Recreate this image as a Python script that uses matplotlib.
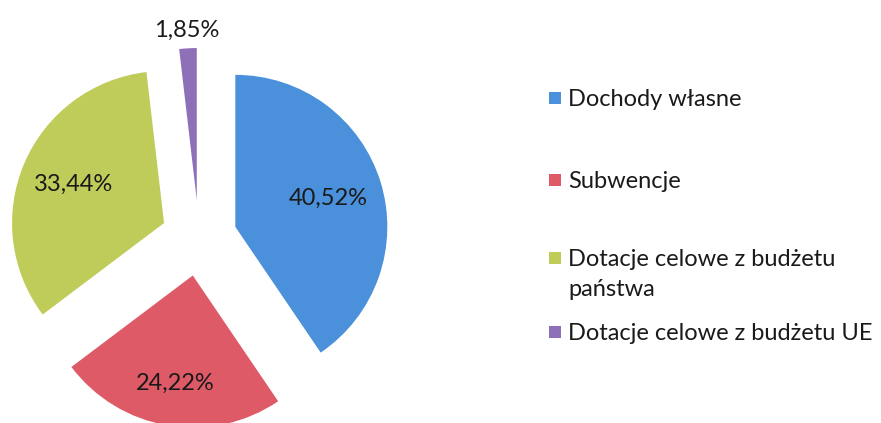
import numpy as np
import matplotlib
matplotlib.use("Agg")
import matplotlib.pyplot as plt
from matplotlib.patches import Rectangle

plt.rcParams["font.family"] = ["Lato", "DejaVu Sans"]

# data
categories = ["Dochody własne", "Subwencje",
              "Dotacje celowe z budżetu\npaństwa",
              "Dotacje celowe z budżetu UE"]
shares = [40.52, 24.22, 33.44, 1.85]
share_labels = ["40,52%", "24,22%", "33,44%", "1,85%"]

COLORS = ["#4A90DA", "#DE5A66", "#C0CC5A", "#8E70B8"]
TEXT = "#1A1A1A"

W, H = 881, 423
fig = plt.figure(figsize=(W / 100, H / 100), dpi=100)
fig.patch.set_facecolor("white")

# axes covering the whole figure, 1 data unit = R px
R = 152.0
cx, cy = 199.0, 238.0
ax = fig.add_axes([0, 0, 1, 1])
wedges, _ = ax.pie(shares, colors=COLORS, startangle=90, counterclock=False,
                   explode=[0.25] * len(shares),
                   wedgeprops=dict(linewidth=0))
ax.set_aspect("auto")
ax.set_xlim(-cx / R, (W - cx) / R)
ax.set_ylim((cy - H) / R, cy / R)
ax.axis("off")

# percentage labels
label_dist = [0.64, 0.72, 0.645, 1.12]
for w, lab, d in zip(wedges, share_labels, label_dist):
    mid = np.deg2rad((w.theta1 + w.theta2) / 2)
    x0, y0 = w.center
    ax.text(x0 + d * np.cos(mid), y0 + d * np.sin(mid), lab,
            ha="center", va="center", fontsize=17, color=TEXT)

# legend drawn by hand so the square sits on the first line of wrapped text
leg_y = [98, 180, 258, 332]
for yy, name, col in zip(leg_y, categories, COLORS):
    fy = 1 - yy / H
    fig.patches.append(Rectangle((549 / W, fy - 6 / H), 12 / W, 12 / H,
                                 transform=fig.transFigure, facecolor=col,
                                 edgecolor="none"))
    fig.text(568 / W, fy + 9 / H, name, ha="left", va="top",
             fontsize=17, color=TEXT, linespacing=1.5)

fig.savefig("out.png", dpi=100, facecolor="white")
